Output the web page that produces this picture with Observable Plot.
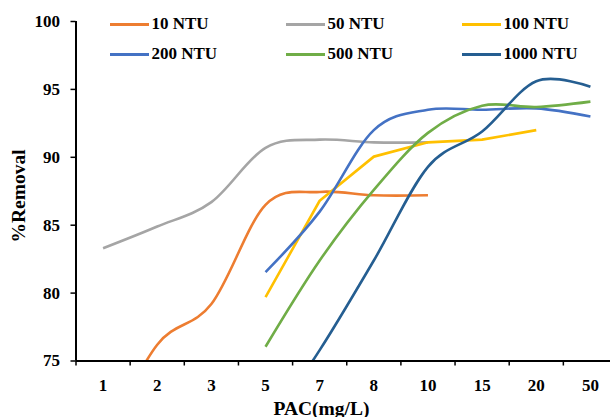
<!DOCTYPE html>
<html>
<head>
<meta charset="utf-8">
<script src="https://cdn.jsdelivr.net/npm/d3@7"></script>
<script src="https://cdn.jsdelivr.net/npm/@observablehq/plot@0.6"></script>
<style>
  body { margin: 0; background: #fff; }
  #wrap { position: relative; width: 610px; height: 417px; overflow: hidden;
          font-family: "Liberation Serif", "Times New Roman", serif; font-weight: bold; color: #000; }
  #legend { position: absolute; left: 109.5px; top: 9.5px; display: grid;
            grid-template-columns: 176px 176px 176px; grid-auto-rows: 29.7px; }
  .item { display: flex; align-items: center; font-size: 17px; white-space: nowrap; }
  .sw { width: 39px; height: 3px; margin-right: 3px; }
  .title { position: absolute; font-size: 19.5px; line-height: 1; white-space: nowrap; }
</style>
</head>
<body>
<div id="wrap"></div>
<script>
// x categories (PAC dose, mg/L)
const pacLabels = ["1", "2", "3", "5", "7", "8", "10", "15", "20", "50"];
const yTicks = [75, 80, 85, 90, 95, 100];
const yDomain = [75, 100];

const seriesNames = ["10 NTU", "50 NTU", "100 NTU", "200 NTU", "500 NTU", "1000 NTU"];
const seriesColors = ["#ED7D31", "#A5A5A5", "#FFC000", "#4472C4", "#70AD47", "#255E91"];
const seriesCurves = ["cardinal", "cardinal", "linear", "cardinal", "cardinal", "cardinal"];

// % removal per category (null = not measured)
const ntu10   = [69.0, 76.2, 79.2, 86.5, 87.45, 87.2, 87.2, null, null, null];
const ntu50   = [83.3, 84.9, 86.7, 90.7, 91.3, 91.1, 91.1, null, null, null];
const ntu100  = [null, null, null, 79.7, 86.8, 90.05, 91.1, 91.3, 92.0, null];
const ntu200  = [null, null, null, 81.55, 86.0, 92.0, 93.5, 93.5, 93.6, 93.0];
const ntu500  = [null, null, null, 76.05, 82.4, 87.6, 91.8, 93.8, 93.7, 94.1];
const ntu1000 = [null, null, null, 70.0, 75.8, 82.4, 89.3, 91.9, 95.6, 95.2];

const seriesValues = [ntu10, ntu50, ntu100, ntu200, ntu500, ntu1000];

const xDomain = [-0.5, pacLabels.length - 0.5];
const boundaries = d3.range(pacLabels.length + 1).map(i => i - 0.5);

const lineMarks = seriesValues.map((vals, k) => {
  const rows = vals.map((v, i) => ({i, v})).filter(d => d.v != null);
  return Plot.line(rows, {
    x: "i", y: "v", stroke: seriesColors[k], strokeWidth: 2.6,
    curve: seriesCurves[k], tension: 0, clip: true, strokeLinecap: "butt"
  });
});

const chart = Plot.plot({
  width: 610, height: 417,
  marginTop: 21, marginBottom: 56.5, marginLeft: 75.5, marginRight: -7,
  x: {type: "linear", domain: xDomain},
  y: {domain: yDomain},
  style: {fontFamily: "Liberation Serif, Times New Roman, serif", fontWeight: "bold",
          fontSize: "17px", color: "#000", background: "#fff"},
  marks: [
    ...lineMarks,
    Plot.axisY({ticks: yTicks, tickSize: 5, tickPadding: 11, label: null, strokeWidth: 1.5}),
    Plot.axisX({ticks: d3.range(pacLabels.length), tickSize: 0, tickPadding: 18,
                tickFormat: i => pacLabels[i], label: null}),
    Plot.axisX({ticks: boundaries, tickSize: 5, tickFormat: () => "", label: null, strokeWidth: 1.5}),
    Plot.ruleX([xDomain[0]], {stroke: "#000", strokeWidth: 2}),
    Plot.ruleY([yDomain[0]], {stroke: "#000", strokeWidth: 2})
  ]
});

const wrap = document.getElementById("wrap");
wrap.appendChild(chart);

// legend (HTML overlay)
const legend = document.createElement("div");
legend.id = "legend";
seriesNames.forEach((name, k) => {
  const it = document.createElement("div");
  it.className = "item";
  const sw = document.createElement("span");
  sw.className = "sw";
  sw.style.background = seriesColors[k];
  it.appendChild(sw);
  it.appendChild(document.createTextNode(name));
  legend.appendChild(it);
});
wrap.appendChild(legend);

// axis titles
const xt = document.createElement("div");
xt.className = "title";
xt.textContent = "PAC(mg/L)";
xt.style.left = "321.5px"; xt.style.top = "398.5px"; xt.style.transform = "translateX(-50%)";
wrap.appendChild(xt);

const yt = document.createElement("div");
yt.className = "title";
yt.textContent = "%Removal";
yt.style.left = "19px"; yt.style.top = "196px";
yt.style.transform = "translate(-50%,-50%) rotate(-90deg)";
wrap.appendChild(yt);
</script>
</body>
</html>
